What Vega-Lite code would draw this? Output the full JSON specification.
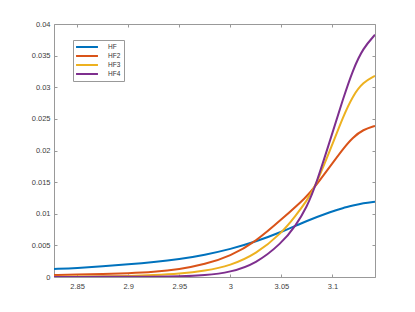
{
  "$schema": "https://vega.github.io/schema/vega-lite/v6.json",
  "width": 321,
  "height": 253,
  "autosize": "none",
  "padding": {"left": 54, "top": 24, "right": 40, "bottom": 35},
  "background": "white",
  "config": {
    "view": {"stroke": null},
    "font": "Liberation Sans",
    "axis": {
      "grid": false,
      "domainColor": "#999999",
      "domainWidth": 1,
      "tickColor": "#999999",
      "tickSize": -3,
      "labelFontSize": 7.5,
      "labelColor": "#404040",
      "labelFont": "Liberation Sans",
      "title": null
    }
  },
  "datasets": {
    "curves": [
      {"x": 2.8274, "s": "HF", "y": 0.00126}, {"x": 2.85, "s": "HF", "y": 0.00142}, {"x": 2.875, "s": "HF", "y": 0.0017}, {"x": 2.9, "s": "HF", "y": 0.002}, {"x": 2.925, "s": "HF", "y": 0.00235}, {"x": 2.95, "s": "HF", "y": 0.0028}, {"x": 2.975, "s": "HF", "y": 0.0035}, {"x": 3.0, "s": "HF", "y": 0.0044}, {"x": 3.025, "s": "HF", "y": 0.0056}, {"x": 3.05, "s": "HF", "y": 0.0071}, {"x": 3.075, "s": "HF", "y": 0.0089}, {"x": 3.1, "s": "HF", "y": 0.0104}, {"x": 3.11, "s": "HF", "y": 0.0109}, {"x": 3.12, "s": "HF", "y": 0.0113}, {"x": 3.13, "s": "HF", "y": 0.0117}, {"x": 3.1416, "s": "HF", "y": 0.0119},
      {"x": 2.8274, "s": "HF2", "y": 0.0003}, {"x": 2.85, "s": "HF2", "y": 0.00038}, {"x": 2.875, "s": "HF2", "y": 0.00047}, {"x": 2.9, "s": "HF2", "y": 0.0006}, {"x": 2.925, "s": "HF2", "y": 0.0008}, {"x": 2.95, "s": "HF2", "y": 0.0012}, {"x": 2.975, "s": "HF2", "y": 0.002}, {"x": 3.0, "s": "HF2", "y": 0.0033}, {"x": 3.025, "s": "HF2", "y": 0.0056}, {"x": 3.05, "s": "HF2", "y": 0.0091}, {"x": 3.075, "s": "HF2", "y": 0.0127}, {"x": 3.0835, "s": "HF2", "y": 0.0144}, {"x": 3.1, "s": "HF2", "y": 0.018}, {"x": 3.11, "s": "HF2", "y": 0.0202}, {"x": 3.12, "s": "HF2", "y": 0.0221}, {"x": 3.13, "s": "HF2", "y": 0.0233}, {"x": 3.1416, "s": "HF2", "y": 0.0239},
      {"x": 2.8274, "s": "HF3", "y": 0.00004}, {"x": 2.85, "s": "HF3", "y": 0.00006}, {"x": 2.875, "s": "HF3", "y": 0.0001}, {"x": 2.9, "s": "HF3", "y": 0.00016}, {"x": 2.925, "s": "HF3", "y": 0.0003}, {"x": 2.95, "s": "HF3", "y": 0.0005}, {"x": 2.975, "s": "HF3", "y": 0.00095}, {"x": 3.0, "s": "HF3", "y": 0.0018}, {"x": 3.025, "s": "HF3", "y": 0.0036}, {"x": 3.05, "s": "HF3", "y": 0.0069}, {"x": 3.064, "s": "HF3", "y": 0.0097}, {"x": 3.075, "s": "HF3", "y": 0.0121}, {"x": 3.0835, "s": "HF3", "y": 0.0144}, {"x": 3.1, "s": "HF3", "y": 0.021}, {"x": 3.11, "s": "HF3", "y": 0.0252}, {"x": 3.12, "s": "HF3", "y": 0.0287}, {"x": 3.13, "s": "HF3", "y": 0.0308}, {"x": 3.1416, "s": "HF3", "y": 0.0318},
      {"x": 2.8274, "s": "HF4", "y": 0.00001}, {"x": 2.85, "s": "HF4", "y": 0.00001}, {"x": 2.875, "s": "HF4", "y": 0.00002}, {"x": 2.9, "s": "HF4", "y": 0.00003}, {"x": 2.925, "s": "HF4", "y": 0.00005}, {"x": 2.95, "s": "HF4", "y": 0.00008}, {"x": 2.975, "s": "HF4", "y": 0.00025}, {"x": 3.0, "s": "HF4", "y": 0.00075}, {"x": 3.025, "s": "HF4", "y": 0.0021}, {"x": 3.05, "s": "HF4", "y": 0.0053}, {"x": 3.064, "s": "HF4", "y": 0.0081}, {"x": 3.075, "s": "HF4", "y": 0.0111}, {"x": 3.0835, "s": "HF4", "y": 0.0144}, {"x": 3.1, "s": "HF4", "y": 0.0228}, {"x": 3.11, "s": "HF4", "y": 0.028}, {"x": 3.12, "s": "HF4", "y": 0.0328}, {"x": 3.13, "s": "HF4", "y": 0.0362}, {"x": 3.1416, "s": "HF4", "y": 0.0383}
    ]
  },
  "data": {"name": "curves"},
  "layer": [
    {
      "mark": {"type": "line", "strokeWidth": 2, "interpolate": "basis", "clip": true},
      "encoding": {
        "x": {"field": "x", "type": "quantitative",
              "scale": {"domain": [2.8274, 3.1416], "nice": false, "zero": false},
              "axis": {"orient": "bottom", "values": [2.85, 2.9, 2.95, 3, 3.05, 3.1], "format": "~g", "labelPadding": 8}},
        "y": {"field": "y", "type": "quantitative",
              "scale": {"domain": [0, 0.04], "nice": false},
              "axis": {"orient": "left", "values": [0, 0.005, 0.01, 0.015, 0.02, 0.025, 0.03, 0.035, 0.04], "format": "~g", "labelPadding": 7}},
        "color": {"field": "s", "type": "nominal",
                  "scale": {"domain": ["HF", "HF2", "HF3", "HF4"], "range": ["#0072BD", "#D95319", "#EDB120", "#7E2F8E"]},
                  "legend": {
                    "title": null, "orient": "none", "legendX": 19, "legendY": 16,
                    "symbolType": "M-4,0H4", "symbolSize": 30, "symbolStrokeWidth": 2,
                    "symbolOffset": 7, "labelOffset": 17,
                    "labelFontSize": 6.5, "labelColor": "#333333", "labelFont": "Liberation Sans",
                    "rowPadding": 1, "padding": 3,
                    "strokeColor": "#999999", "fillColor": "white"
                  }}
      }
    },
    {
      "mark": {"type": "line", "strokeOpacity": 0},
      "encoding": {
        "x": {"field": "x", "type": "quantitative",
              "axis": {"orient": "top", "values": [2.85, 2.9, 2.95, 3, 3.05, 3.1], "labels": false}},
        "y": {"field": "y", "type": "quantitative",
              "axis": {"orient": "right", "values": [0, 0.005, 0.01, 0.015, 0.02, 0.025, 0.03, 0.035, 0.04], "labels": false}},
        "detail": {"field": "s"}
      }
    }
  ],
  "resolve": {"axis": {"x": "independent", "y": "independent"}}
}
